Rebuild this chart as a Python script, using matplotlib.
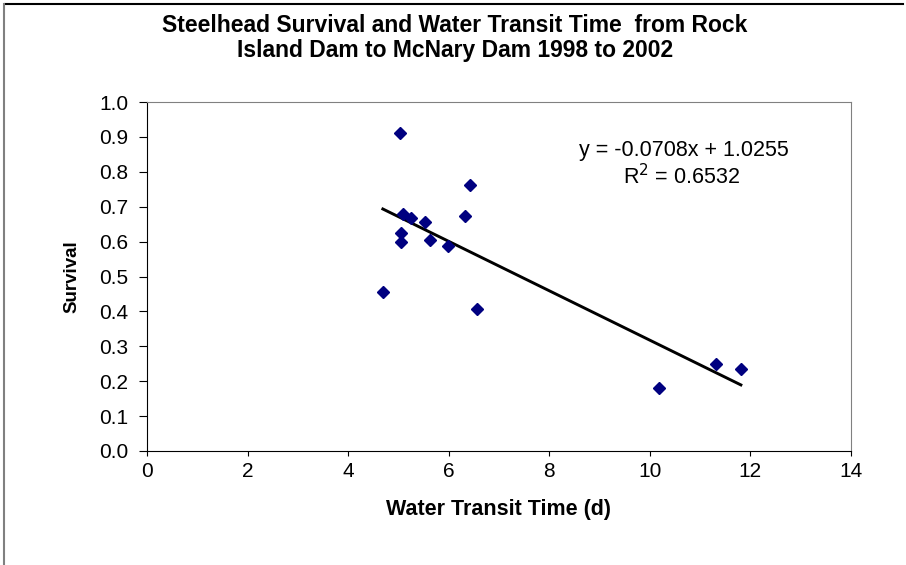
import numpy as np
import matplotlib as mpl
import matplotlib.pyplot as plt
from matplotlib.lines import Line2D

mpl.rc("font", family=["Liberation Sans", "DejaVu Sans"])

# data
transit_days = [5.03, 6.42, 5.09, 5.25, 5.53, 6.32, 5.05, 5.05, 5.63, 5.99,
                4.69, 6.56, 10.18, 11.31, 11.81]
survival = [0.911, 0.762, 0.679, 0.668, 0.656, 0.673, 0.625, 0.599, 0.605, 0.587,
            0.456, 0.407, 0.180, 0.249, 0.235]
fit_slope = -0.0708
fit_intercept = 1.0255
fit_r2 = 0.6532
x_ticks = [0, 2, 4, 6, 8, 10, 12, 14]
y_ticks = np.round(np.arange(0, 1.01, 0.1), 1)

W, H = 906, 565
fig = plt.figure(figsize=(W/100, H/100), dpi=100)
ax = fig.add_axes([147/W, 1-451/H, (851-147)/W, (451-102)/H])

ax.plot(transit_days, survival, "D", color="#000080", ms=6.5, mec="#000080", zorder=3)

xl = np.array([min(transit_days), max(transit_days)])
ax.plot(xl, fit_slope*xl + fit_intercept, "-k", lw=2.1, zorder=2)

# trendline label
ax.text(684/W, 1-151/H, "y = %.4fx + %.4f" % (fit_slope, fit_intercept),
        transform=fig.transFigure, ha="center", va="center", fontsize=15.5)
ax.text(682/W, 1-177/H, "R$^2$ = %.4f" % fit_r2, transform=fig.transFigure,
        ha="center", va="center", fontsize=15.5)

ax.set_xlim(0, 14)
ax.set_ylim(0, 1.0)
ax.set_xticks(x_ticks)
ax.set_yticks(y_ticks)
ax.set_yticklabels(["%.1f" % v for v in y_ticks])
ax.tick_params(axis="both", direction="out", labelsize=15, color="k")
ax.tick_params(axis="y", length=5.5, pad=8)
ax.tick_params(axis="x", length=3.6, pad=4.5)
for s in ["top", "right"]:
    ax.spines[s].set_color("#808080")
for s in ["left", "bottom"]:
    ax.spines[s].set_color("k")

ax.set_xlabel("Water Transit Time (d)", fontsize=15.5, fontweight="bold", labelpad=13)
ax.set_ylabel("Survival", fontsize=13.5, fontweight="bold", labelpad=13)

fig.text(455/W, 1-38/H, "Steelhead Survival and Water Transit Time  from Rock\n"
         "Island Dam to McNary Dam 1998 to 2002",
         ha="center", va="center", fontsize=16.5, fontweight="bold", linespacing=1.15)

# chart area border (only top and left show)
fig.add_artist(Line2D([5/W, 903/W], [1-4/H, 1-4/H], color="k", lw=1.5))
fig.add_artist(Line2D([4/W, 4/W], [1-4/H, 0], color="#808080", lw=1.5))

fig.savefig("out.png", dpi=100)
